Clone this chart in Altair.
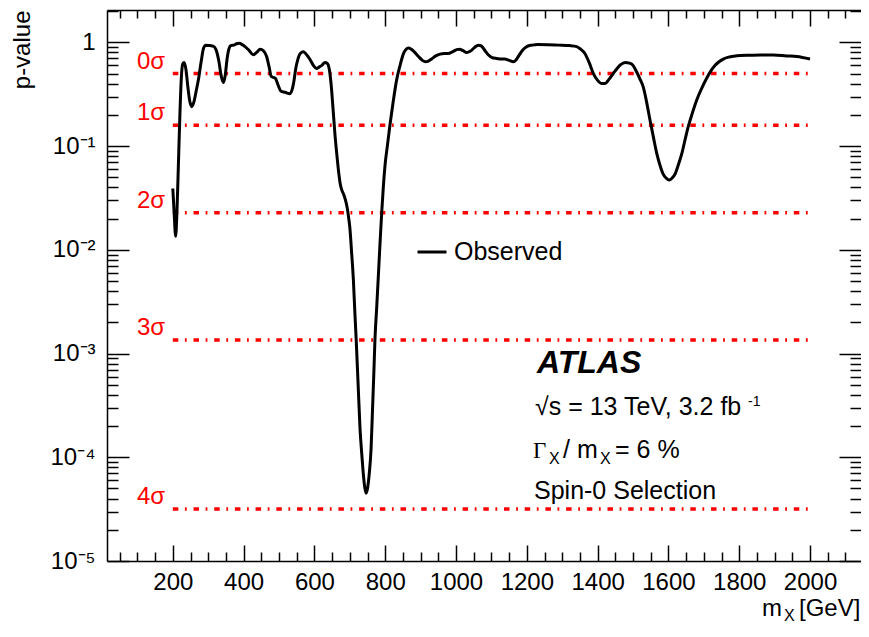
import altair as alt
import pandas as pd

# ---------------- data ----------------
mass = [200, 204, 208, 212, 216, 220, 224, 228, 232, 237, 243, 248, 253, 260, 266, 272,
        280, 287, 293, 305, 314, 322, 330, 337, 343, 348, 353, 358, 364, 372, 380, 388,
        396, 404, 415, 427, 437, 447, 456, 465, 472, 478, 484, 490, 497, 505, 517, 531,
        537, 542, 547, 553, 560, 569, 578, 588, 597, 606, 614, 621, 630, 636, 642, 647,
        653, 658, 663, 668, 673, 677, 683, 688, 693, 697, 700, 705, 710, 714, 718, 723,
        729, 734, 738, 742, 746, 750, 755, 760, 764, 768, 771, 776, 780, 785, 790, 795,
        800, 806, 814, 822, 832, 842, 851, 858, 866, 873, 882, 894, 905, 914, 922, 931,
        943, 955, 967, 978, 990, 1002, 1010, 1020, 1030, 1040, 1052, 1063, 1072, 1082,
        1091, 1103, 1115, 1128, 1138, 1150, 1162, 1170, 1178, 1188, 1200, 1215, 1230,
        1260, 1290, 1320, 1341, 1352, 1364, 1376, 1388, 1400, 1412, 1421, 1432, 1444,
        1455, 1465, 1478, 1490, 1500, 1510, 1520, 1529, 1538, 1548, 1558, 1567, 1577,
        1586, 1594, 1602, 1610, 1619, 1628, 1638, 1647, 1656, 1668, 1680, 1694, 1708,
        1720, 1732, 1743, 1755, 1770, 1785, 1803, 1830, 1860, 1897, 1934, 1963, 2000]
pvalue = [0.039, 0.022, 0.0135, 0.025, 0.07, 0.20, 0.45, 0.62, 0.64, 0.55, 0.36, 0.27,
          0.24, 0.27, 0.34, 0.43, 0.65, 0.88, 0.94, 0.93, 0.92, 0.85, 0.66, 0.47, 0.41,
          0.48, 0.68, 0.85, 0.93, 0.94, 0.97, 0.98, 0.95, 0.91, 0.84, 0.76, 0.80, 0.86,
          0.83, 0.73, 0.58, 0.47, 0.46, 0.45, 0.39, 0.34, 0.33, 0.32, 0.35, 0.42, 0.55,
          0.68, 0.78, 0.81, 0.76, 0.68, 0.60, 0.56, 0.58, 0.60, 0.64, 0.63, 0.55, 0.40,
          0.22, 0.13, 0.085, 0.058, 0.043, 0.038, 0.034, 0.030, 0.025, 0.020, 0.0165,
          0.0095, 0.0052, 0.0026, 0.00136, 0.00055, 0.000184, 0.000105, 0.000070,
          0.000052, 0.000045, 0.000050, 0.000070, 0.000120, 0.00028, 0.00067, 0.00136,
          0.0028, 0.0051, 0.0110, 0.0225, 0.042, 0.068, 0.10, 0.166, 0.26, 0.43, 0.60,
          0.77, 0.85, 0.88, 0.86, 0.81, 0.73, 0.67, 0.65, 0.66, 0.69, 0.74, 0.77, 0.78,
          0.78, 0.81, 0.85, 0.86, 0.83, 0.80, 0.82, 0.89, 0.94, 0.92, 0.83, 0.76, 0.71,
          0.70, 0.69, 0.69, 0.67, 0.65, 0.68, 0.75, 0.84, 0.91, 0.94, 0.955, 0.95, 0.94,
          0.93, 0.91, 0.86, 0.78, 0.64, 0.50, 0.43, 0.40, 0.40, 0.44, 0.50, 0.56, 0.61,
          0.64, 0.63, 0.60, 0.52, 0.44, 0.37, 0.27, 0.178, 0.12, 0.085, 0.064, 0.053,
          0.049, 0.047, 0.049, 0.054, 0.066, 0.085, 0.115, 0.154, 0.21, 0.278, 0.36,
          0.45, 0.53, 0.60, 0.65, 0.69, 0.72, 0.735, 0.745, 0.75, 0.755, 0.755, 0.74,
          0.73, 0.69]
series = ["Observed"]

sigma_labels = ["0σ", "1σ", "2σ", "3σ", "4σ"]
sigma_p = [0.5, 0.1587, 0.02275, 0.00135, 3.167e-5]

x_ticks = list(range(50, 2141, 50))
y_ticks = [k * 10.0 ** e for e in range(-5, 1) for k in range(1, 10) if k * 10.0 ** e <= 2.0]

# ---------------- style ----------------
FONT = "Liberation Sans"
X0, Y0 = 107, 10          # page position of plot origin
W, H = 754, 551
xscale = alt.Scale(domain=[14.1, 2144.0], nice=False, zero=False)
yscale = alt.Scale(type="log", domain=[1e-5, 2.05], nice=False)

MAJ_Y = "abs(log(datum.value)/LN10 - round(log(datum.value)/LN10)) < 0.001"
MAJ_X = "datum.value % 200 == 0"

curve_df = pd.DataFrame({"mass": mass, "p": pvalue, "series": series[0]})
sigma_df = pd.DataFrame({"label": sigma_labels, "p": sigma_p,
                         "x0": min(mass), "x1": max(mass)})

common_axis = dict(grid=False, tickColor="black", tickWidth=1.5, domainColor="black",
                   domainWidth=1.5, labelColor="black", labelFont=FONT)

x_bottom = alt.Axis(orient="bottom", values=x_ticks, format="d",
                    labelExpr=f"{MAJ_X} ? datum.label : ''",
                    tickSize={"condition": {"test": MAJ_X, "value": -16}, "value": -9},
                    labelFontSize=24, labelPadding=25, labelFlush=False,
                    labelOverlap=False, labelBound=False, title=None, **common_axis)
y_left = alt.Axis(orient="left", values=y_ticks,
                  labelExpr=(f"{MAJ_Y} ? (round(log(datum.value)/LN10) == 0 ? '1' : "
                             "'10' + ['', '⁻¹', '⁻²', '⁻³', '⁻⁴', '⁻⁵'][-round(log(datum.value)/LN10)]) : ''"),
                  tickSize={"condition": {"test": MAJ_Y, "value": -22}, "value": -11},
                  labelFontSize=24, labelPadding=34, labelFlush=False,
                  labelOverlap=False, labelBound=False,
                  title="p-value", titleFont=FONT, titleFontSize=24, titleFontWeight="normal",
                  titleColor="black", titleAngle=270, titleAlign="right",
                  titleBaseline="alphabetic", titleX=29 - X0, titleY=0, **common_axis)
x_top = alt.Axis(orient="top", values=x_ticks, labels=False, title=None,
                 tickSize={"condition": {"test": MAJ_X, "value": -16}, "value": -8},
                 **common_axis)
y_right = alt.Axis(orient="right", values=y_ticks, labels=False, title=None,
                   tickSize={"condition": {"test": MAJ_Y, "value": -22}, "value": -11},
                   **{**common_axis, "domain": False})

curve = alt.Chart(curve_df).mark_line(strokeWidth=3, interpolate="monotone").encode(
    x=alt.X("mass:Q", scale=xscale, axis=x_bottom),
    y=alt.Y("p:Q", scale=yscale, axis=y_left),
    color=alt.Color("series:N", scale=alt.Scale(domain=series, range=["black"]),
                    legend=alt.Legend(orient="none", legendX=416 - X0, legendY=226,
                                      title=None, symbolType="stroke", symbolSize=841,
                                      symbolStrokeWidth=3, labelFont=FONT, labelFontSize=25,
                                      labelColor="black", labelOffset=6, padding=0)),
)

frame_axes = alt.Chart(curve_df).mark_line(strokeOpacity=0).encode(
    x=alt.X("mass:Q", scale=xscale, axis=x_top),
    y=alt.Y("p:Q", scale=yscale, axis=y_right),
)

sig_lines = alt.Chart(sigma_df).mark_rule(color="#ff0000", strokeWidth=3.5,
                                          strokeDash=[5.5, 6.6, 1.8, 6.8], strokeCap="butt").encode(
    x=alt.X("x0:Q", scale=xscale, axis=None),
    x2="x1:Q",
    y=alt.Y("p:Q", scale=yscale, axis=None),
)

sig_text = alt.Chart(sigma_df).mark_text(align="left", baseline="alphabetic", dy=-5,
                                         fontSize=24, font=FONT, color="#ff0000").encode(
    x=alt.value(137 - X0),
    y=alt.Y("p:Q", scale=yscale, axis=None),
    text="label:N",
)


def note(text, x, y, size=25, font=FONT, **kw):
    return alt.Chart(pd.DataFrame({"t": [text]})).mark_text(
        align="left", baseline="alphabetic", fontSize=size, font=font, color="black", **kw
    ).encode(x=alt.value(x - X0), y=alt.value(y - Y0), text="t:N")


notes = [
    note("ATLAS", 537, 373, size=32, fontWeight="bold", fontStyle="italic"),
    note("√s = 13 TeV, 3.2 fb", 535, 415),
    note("-1", 748, 406, size=14),
    note("Γ", 533, 458, size=23, font="Liberation Serif"),
    note("X", 549, 464, size=16),
    note("/ m", 563, 458),
    note("X", 600, 464, size=16),
    note("= 6 %", 615, 458),
    note("Spin-0 Selection", 534, 499),
    note("m", 762, 616, size=24),
    note("X", 784, 621, size=16),
    note("[GeV]", 799, 616, size=24),
]

chart = alt.layer(sig_lines, curve, frame_axes, sig_text, *notes).resolve_axis(
    x="independent", y="independent"
).properties(
    width=W, height=H,
    autosize=alt.AutoSizeParams(type="none"),
    padding={"left": X0 - 8, "top": Y0 - 8, "right": 0, "bottom": 64},
).configure_view(stroke=None).configure(background="white")

chart.save("out.html", embed_options={"renderer": "svg", "actions": False})
